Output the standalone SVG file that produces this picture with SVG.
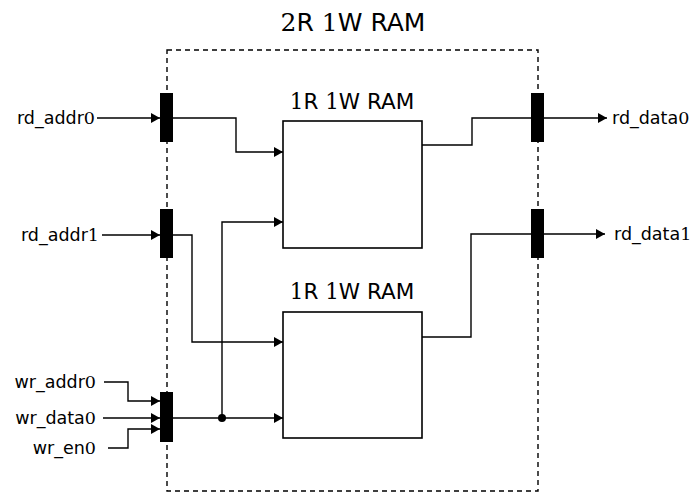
<svg xmlns="http://www.w3.org/2000/svg" width="695" height="494" viewBox="0 0 695 494">
<style>
.t{font-family:"DejaVu Sans","Liberation Sans",sans-serif;fill:#000}
.n{font-family:"DejaVu Serif","Liberation Serif",serif}
.w{fill:none;stroke:#000;stroke-width:1.4}
.box{fill:#fff;stroke:#000;stroke-width:1.6}
.bar{fill:#000}
</style>
<defs>
<marker id="a" markerWidth="10" markerHeight="10" refX="9" refY="5" orient="auto" markerUnits="userSpaceOnUse">
<path d="M0,0 L9,5 L0,10 Z" fill="#000"/>
</marker>
</defs>
<text class="t" x="353" y="31" font-size="25" text-anchor="middle"><tspan class="n">2</tspan>R <tspan class="n">1</tspan>W RAM</text>
<rect x="167" y="50" width="371" height="441" fill="none" stroke="#000" stroke-width="1.4" stroke-dasharray="5,4"/>
<g id="connectors">
<path class="w" d="M97,118 H160" marker-end="url(#a)"/>
<path class="w" d="M102,235 H160" marker-end="url(#a)"/>
<path class="w" d="M104,382 H128 V401 H160" marker-end="url(#a)"/>
<path class="w" d="M103,418 H160" marker-end="url(#a)"/>
<path class="w" d="M108,448 H128 V429 H160" marker-end="url(#a)"/>
<path class="w" d="M173,118 H236 V152 H283" marker-end="url(#a)"/>
<path class="w" d="M173,235 H192 V342 H283" marker-end="url(#a)"/>
<path class="w" d="M173,418 H283" marker-end="url(#a)"/>
<path class="w" d="M222,418 V222 H283" marker-end="url(#a)"/>
<circle cx="222" cy="418" r="4" fill="#000"/>
<path class="w" d="M422,145 H472 V118 H607" marker-end="url(#a)"/>
<path class="w" d="M422,337 H471 V234 H605" marker-end="url(#a)"/>
</g>
<g id="ram0">
<rect class="box" x="283" y="121" width="139" height="127"/>
<text class="t" x="352" y="109" font-size="21.5" text-anchor="middle"><tspan class="n">1</tspan>R <tspan class="n">1</tspan>W RAM</text>
</g>
<g id="ram1">
<rect class="box" x="283" y="312" width="139" height="126"/>
<text class="t" x="352" y="299" font-size="21.5" text-anchor="middle"><tspan class="n">1</tspan>R <tspan class="n">1</tspan>W RAM</text>
</g>
<g id="port_rd_addr0">
<rect class="bar" x="160" y="93" width="13" height="49"/>
<text class="t" x="95" y="124" font-size="17.5" text-anchor="end">rd_addr<tspan class="n">0</tspan></text>
</g>
<g id="port_rd_addr1">
<rect class="bar" x="160" y="209" width="13" height="49"/>
<text class="t" x="99" y="241" font-size="17.5" text-anchor="end">rd_addr<tspan class="n">1</tspan></text>
</g>
<g id="port_wr">
<rect class="bar" x="160" y="392" width="13" height="50"/>
<text class="t" x="96" y="388" font-size="17.5" text-anchor="end">wr_addr<tspan class="n">0</tspan></text>
<text class="t" x="96" y="424" font-size="17.5" text-anchor="end">wr_data<tspan class="n">0</tspan></text>
<text class="t" x="96" y="454" font-size="17.5" text-anchor="end">wr_en<tspan class="n">0</tspan></text>
</g>
<g id="port_rd_data0">
<rect class="bar" x="531" y="93" width="13" height="49"/>
<text class="t" x="612" y="124" font-size="17.5">rd_data<tspan class="n">0</tspan></text>
</g>
<g id="port_rd_data1">
<rect class="bar" x="531" y="209" width="13" height="49"/>
<text class="t" x="614" y="240" font-size="17.5">rd_data<tspan class="n">1</tspan></text>
</g>
</svg>
